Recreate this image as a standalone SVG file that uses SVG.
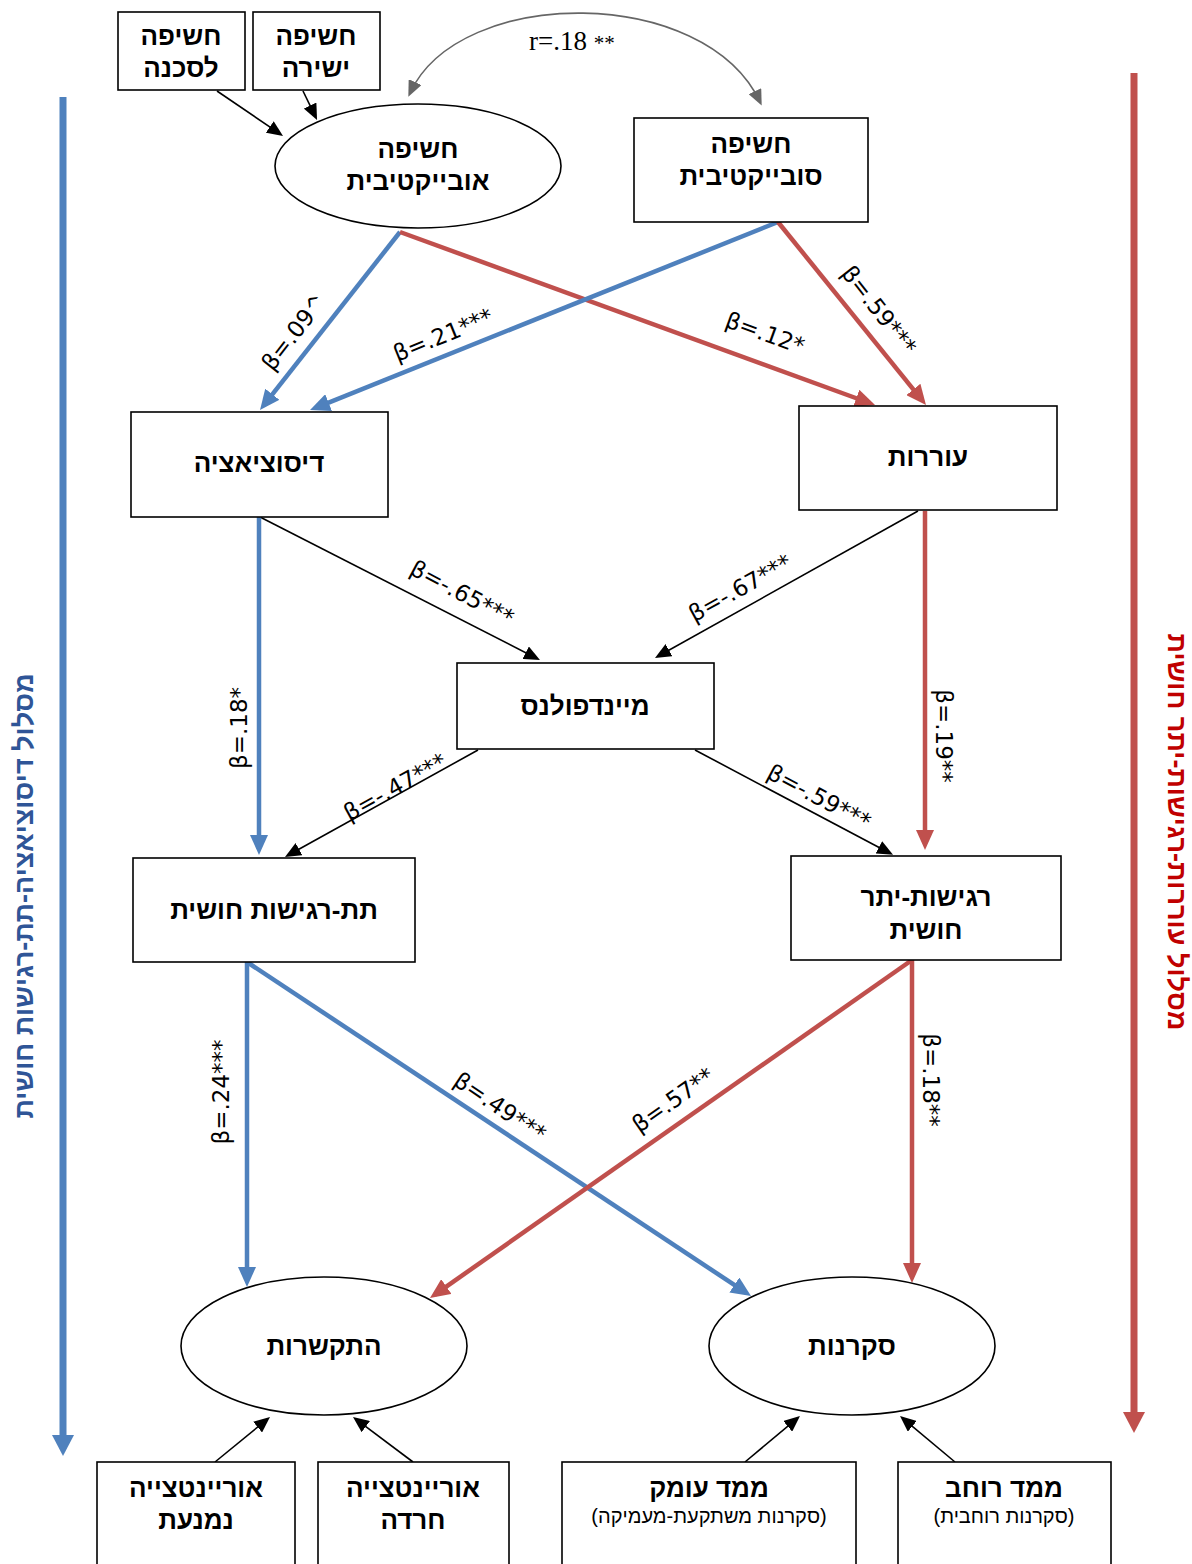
<svg xmlns="http://www.w3.org/2000/svg" width="1192" height="1564" viewBox="0 0 1192 1564">
<style>
.box{fill:#fff;stroke:#000;stroke-width:1.6}
.nt{font-family:"Liberation Sans","DejaVu Sans",sans-serif;font-weight:bold;font-size:26px;text-anchor:middle;fill:#000}
.st{font-family:"Liberation Sans","DejaVu Sans",sans-serif;font-size:20px;text-anchor:middle;fill:#000}
.lb{font-family:"DejaVu Sans","Liberation Sans",sans-serif;font-size:23px;text-anchor:middle;dominant-baseline:central;fill:#000}
.side{font-family:"Liberation Sans","DejaVu Sans",sans-serif;font-weight:bold;font-size:27px;text-anchor:middle;dominant-baseline:central}
.blue{stroke:#4F81BD;stroke-width:4.5;fill:none}
.red{stroke:#C0504D;stroke-width:4.5;fill:none}
.blk{stroke:#000;stroke-width:1.6;fill:none}
</style>
<defs>
<marker id="hb" viewBox="0 0 20 18" refX="14" refY="9" markerWidth="20" markerHeight="18" markerUnits="userSpaceOnUse" orient="auto"><path d="M0,0 L20,9 L0,18 z" fill="#4F81BD"/></marker>
<marker id="hr" viewBox="0 0 20 18" refX="14" refY="9" markerWidth="20" markerHeight="18" markerUnits="userSpaceOnUse" orient="auto"><path d="M0,0 L20,9 L0,18 z" fill="#C0504D"/></marker>
<marker id="hk" viewBox="0 0 16 14" refX="12" refY="7" markerWidth="16" markerHeight="14" markerUnits="userSpaceOnUse" orient="auto"><path d="M0,0 L16,7 L0,14 z" fill="#000"/></marker>
<marker id="hg" viewBox="0 0 16 14" refX="12" refY="7" markerWidth="16" markerHeight="14" markerUnits="userSpaceOnUse" orient="auto-start-reverse"><path d="M0,0 L16,7 L0,14 z" fill="#666"/></marker>
</defs>

<g id="side-arrows">
<line x1="63" y1="97" x2="63" y2="1438" stroke="#4F81BD" stroke-width="7"/>
<polygon points="52,1435 74,1435 63,1456" fill="#4F81BD"/>
<line x1="1134" y1="73" x2="1134" y2="1415" stroke="#C0504D" stroke-width="7"/>
<polygon points="1123,1412 1145,1412 1134,1433" fill="#C0504D"/>
<text class="side" x="0" y="0" transform="translate(24,896) rotate(-90)" fill="#2F5597" direction="rtl">מסלול דיסוציאציה-תת-רגישות חושית</text>
<text class="side" x="0" y="0" transform="translate(1177,832) rotate(90)" fill="#C00000" direction="rtl">מסלול עוררות-רגישות-יתר  חושית</text>
</g>

<g id="connectors">
<path d="M410,93 C460,-15 705,-15 760,102" stroke="#666" stroke-width="1.6" fill="none" marker-start="url(#hg)" marker-end="url(#hg)"/>
<line class="blk" x1="217" y1="91" x2="279.7" y2="133.7" marker-end="url(#hk)"/>
<line class="blk" x1="303" y1="91" x2="315.3" y2="116.4" marker-end="url(#hk)"/>
<line class="blue" x1="400" y1="232" x2="263.7" y2="405.3" marker-end="url(#hb)"/>
<line class="red" x1="400" y1="232" x2="869.4" y2="403" marker-end="url(#hr)"/>
<line class="blue" x1="778" y1="222" x2="315.6" y2="407.8" marker-end="url(#hb)"/>
<line class="red" x1="778" y1="222" x2="922.2" y2="400.3" marker-end="url(#hr)"/>
<line class="blk" x1="260" y1="517" x2="536.4" y2="658.2" marker-end="url(#hk)"/>
<line class="blk" x1="918" y1="511" x2="658.5" y2="656" marker-end="url(#hk)"/>
<line class="blue" x1="259" y1="517" x2="259" y2="849" marker-end="url(#hb)"/>
<line class="red" x1="925" y1="511" x2="925" y2="844" marker-end="url(#hr)"/>
<line class="blk" x1="478" y1="750" x2="288.5" y2="855" marker-end="url(#hk)"/>
<line class="blk" x1="695" y1="750" x2="889.5" y2="853" marker-end="url(#hk)"/>
<line class="blue" x1="247" y1="962" x2="247" y2="1281" marker-end="url(#hb)"/>
<line class="blue" x1="247" y1="962" x2="746" y2="1292.7" marker-end="url(#hb)"/>
<line class="red" x1="912" y1="960" x2="434.9" y2="1294.6" marker-end="url(#hr)"/>
<line class="red" x1="912" y1="960" x2="912" y2="1277" marker-end="url(#hr)"/>
<line class="blk" x1="215" y1="1462" x2="266.9" y2="1419.5" marker-end="url(#hk)"/>
<line class="blk" x1="413" y1="1462" x2="356.2" y2="1419.4" marker-end="url(#hk)"/>
<line class="blk" x1="745" y1="1462" x2="796.9" y2="1418.6" marker-end="url(#hk)"/>
<line class="blk" x1="955" y1="1462" x2="903.1" y2="1418.6" marker-end="url(#hk)"/>
</g>

<g id="labels">
<text x="529" y="50" font-family="Liberation Serif, serif" font-size="27" fill="#000">r=.18 <tspan font-size="21">**</tspan></text>
<text class="lb" transform="translate(294,332) rotate(-52)">β=.09^</text>
<text class="lb" transform="translate(443,335) rotate(-22)">β=.21***</text>
<text class="lb" transform="translate(765,333) rotate(20)">β=.12*</text>
<text class="lb" transform="translate(879,310) rotate(52)">β=.59***</text>
<text class="lb" transform="translate(462,593) rotate(28)">β=-.65***</text>
<text class="lb" transform="translate(740,588) rotate(-29)">β=-.67***</text>
<text class="lb" transform="translate(239,728) rotate(-90)">β=.18*</text>
<text class="lb" transform="translate(944,736) rotate(90)">β=.19**</text>
<text class="lb" transform="translate(395,787) rotate(-29)">β=-.47***</text>
<text class="lb" transform="translate(819,797) rotate(28)">β=-.59***</text>
<text class="lb" transform="translate(221,1092) rotate(-90)">β=.24***</text>
<text class="lb" transform="translate(500,1107) rotate(34)">β=.49***</text>
<text class="lb" transform="translate(673,1100) rotate(-35)">β=.57**</text>
<text class="lb" transform="translate(931,1080) rotate(90)">β=.18**</text>
</g>

<g id="n-danger"><rect class="box" x="118" y="12" width="127" height="78"/><text class="nt" x="181" y="45">חשיפה</text><text class="nt" x="181" y="77">לסכנה</text></g>
<g id="n-direct"><rect class="box" x="253" y="12" width="127" height="78"/><text class="nt" x="316" y="45">חשיפה</text><text class="nt" x="316" y="77">ישירה</text></g>
<g id="n-objective"><ellipse class="box" cx="418" cy="166" rx="143" ry="62"/><text class="nt" x="418" y="158">חשיפה</text><text class="nt" x="418" y="190">אובייקטיבית</text></g>
<g id="n-subjective"><rect class="box" x="634" y="118" width="234" height="104"/><text class="nt" x="751" y="153">חשיפה</text><text class="nt" x="751" y="185">סובייקטיבית</text></g>
<g id="n-dissociation"><rect class="box" x="131" y="412" width="257" height="105"/><text class="nt" x="259" y="472">דיסוציאציה</text></g>
<g id="n-arousal"><rect class="box" x="799" y="406" width="258" height="104"/><text class="nt" x="928" y="466">עוררות</text></g>
<g id="n-mindfulness"><rect class="box" x="457" y="663" width="257" height="86"/><text class="nt" x="585" y="715">מיינדפולנס</text></g>
<g id="n-hypo"><rect class="box" x="133" y="858" width="282" height="104"/><text class="nt" x="274" y="919">תת-רגישות חושית</text></g>
<g id="n-hyper"><rect class="box" x="791" y="856" width="270" height="104"/><text class="nt" x="926" y="906">רגישות-יתר</text><text class="nt" x="926" y="939">חושית</text></g>
<g id="n-attachment"><ellipse class="box" cx="324" cy="1346" rx="143" ry="69"/><text class="nt" x="324" y="1355">התקשרות</text></g>
<g id="n-curiosity"><ellipse class="box" cx="852" cy="1346" rx="143" ry="69"/><text class="nt" x="852" y="1355">סקרנות</text></g>
<g id="n-avoidant"><rect class="box" x="97" y="1462" width="198" height="110"/><text class="nt" x="196" y="1497">אוריינטצייה</text><text class="nt" x="196" y="1529">נמנעת</text></g>
<g id="n-anxious"><rect class="box" x="318" y="1462" width="191" height="110"/><text class="nt" x="413" y="1497">אוריינטצייה</text><text class="nt" x="413" y="1529">חרדה</text></g>
<g id="n-depth"><rect class="box" x="562" y="1462" width="294" height="110"/><text class="nt" x="709" y="1497">ממד עומק</text><text class="st" x="709" y="1523" direction="rtl">(סקרנות משתקעת-מעמיקה)</text></g>
<g id="n-breadth"><rect class="box" x="898" y="1462" width="213" height="110"/><text class="nt" x="1004" y="1497">ממד רוחב</text><text class="st" x="1004" y="1523" direction="rtl">(סקרנות רוחבית)</text></g>
</svg>
